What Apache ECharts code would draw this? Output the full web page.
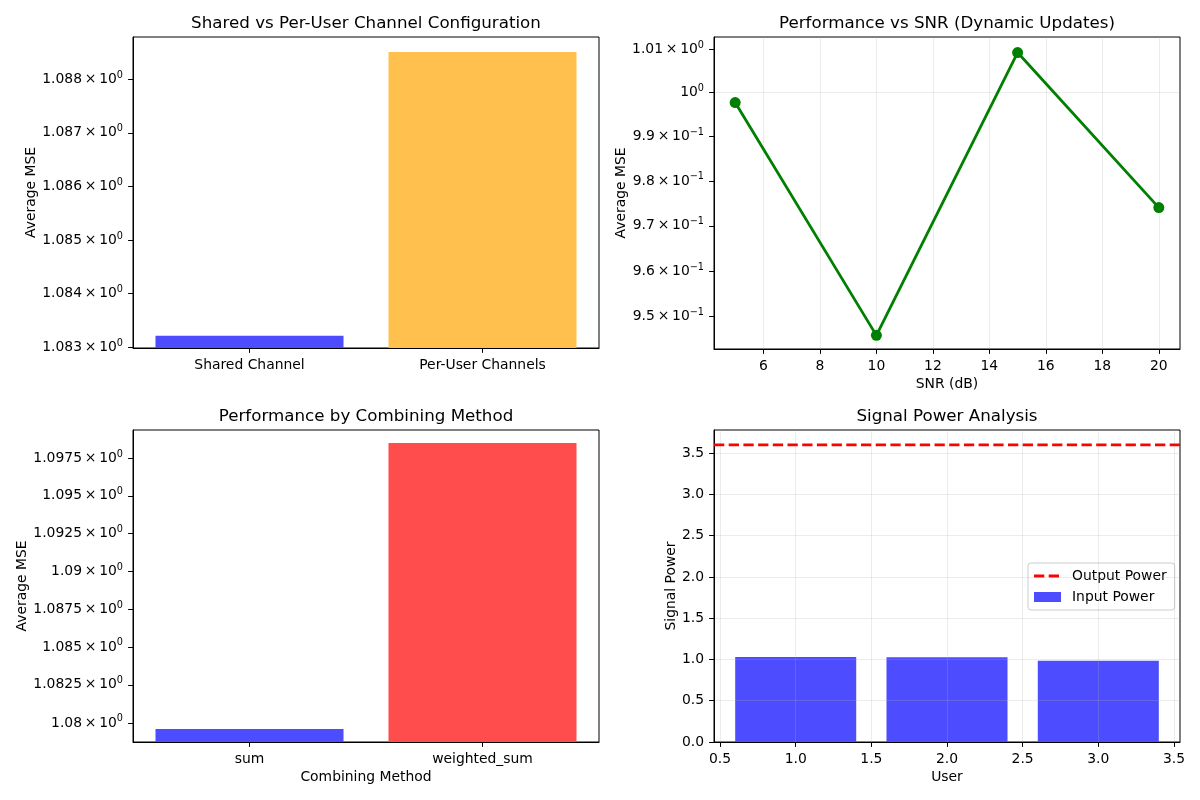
<!DOCTYPE html>
<html>
<head>
<meta charset="utf-8">
<title>Channel analysis</title>
<script src="https://cdn.jsdelivr.net/npm/echarts@6/dist/echarts.min.js"></script>
<style>
  html, body { margin: 0; padding: 0; background: #fff; }
  #chart { width: 1200px; height: 800px; }
</style>
</head>
<body>
<div id="chart"></div>
<script>
// ---- data ----
var channelNames = ['Shared Channel', 'Per-User Channels'];
var channelMse = [1.08322, 1.08851];
var channelTicks = [1.083, 1.084, 1.085, 1.086, 1.087, 1.088];
var channelRange = [1.08299, 1.08879];

var snrDb = [5, 10, 15, 20];
var snrMse = [0.99776, 0.94596, 1.00924, 0.97404];
var snrTicks = [6, 8, 10, 12, 14, 16, 18, 20];
var snrMseTicks = [0.95, 0.96, 0.97, 0.98, 0.99, 1.0, 1.01];
var snrRange = [4.25, 20.75];
var snrMseRange = [0.94301, 1.01284];

var methodNames = ['sum', 'weighted_sum'];
var methodMse = [1.0796, 1.09852];
var methodTicks = [1.08, 1.0825, 1.085, 1.0875, 1.09, 1.0925, 1.095, 1.0975];
var methodRange = [1.07875, 1.09939];

var users = [1, 2, 3];
var inputPower = [1.031, 1.027, 0.983];
var outputPower = 3.6;
var userTicks = [0.5, 1.0, 1.5, 2.0, 2.5, 3.0, 3.5];
var powerTicks = [0, 0.5, 1.0, 1.5, 2.0, 2.5, 3.0, 3.5];
var userRange = [0.46, 3.54];
var powerRange = [0, 3.78];

// ---- helpers ----
var FONT = 'DejaVu Sans';
var lg = function (v) { return Math.log10(v); };

// matplotlib style log labels: "1.083 × 10^0", "10^0", "9.9 × 10^-1"
function sciLabel(v) {
  var raw = Math.pow(10, v);
  var e = Math.floor(Math.log10(raw) + 1e-9);
  var m = parseFloat((raw / Math.pow(10, e)).toFixed(4));
  var es = e < 0 ? '\u2212' + (-e) : String(e);
  if (m === 1) return '{b|10}{s|' + es + '}';
  return '{b|' + m + '\u2009\u00d7\u200910}{s|' + es + '}';
}

var richSci = {
  b: { fontFamily: FONT, fontSize: 13.9, color: '#000', lineHeight: 18 },
  s: { fontFamily: FONT, fontSize: 9.7, color: '#000', verticalAlign: 'top', lineHeight: 12 }
};

var tickStyle = { show: true, length: 4.9, lineStyle: { color: '#000', width: 1 } };
var axisLineStyle = { show: true, onZero: false, lineStyle: { color: '#000', width: 1 } };
var labelStyle = { fontFamily: FONT, fontSize: 13.9, color: '#000', margin: 10 };
var nameStyle = { fontFamily: FONT, fontSize: 13.9, color: '#000' };
// grey at alpha 0.3, drawn over the bars like matplotlib does
var gridLine = { show: true, lineStyle: { color: 'rgba(176,176,176,0.3)', width: 0.8 } };

var grids = [
  { left: 133, top: 37, width: 466, height: 311 },
  { left: 714, top: 37, width: 466, height: 312 },
  { left: 133, top: 430, width: 466, height: 312 },
  { left: 714, top: 430, width: 466, height: 312 }
];
grids.forEach(function (g) {
  g.show = true;
  g.borderColor = '#000';
  g.borderWidth = 1;
  g.outerBoundsMode = 'none';
});

function catX(gi, names, axisName) {
  return {
    type: 'category', gridIndex: gi, data: names, z: 10,
    name: axisName || '', nameLocation: 'middle', nameGap: 28, nameTextStyle: nameStyle,
    axisLine: axisLineStyle,
    axisTick: { show: true, length: 4.9, alignWithLabel: true, lineStyle: { color: '#000', width: 1 } },
    axisLabel: labelStyle,
    splitLine: { show: false }
  };
}

function logY(gi, ticks, range, nameGap) {
  var cv = ticks.map(lg);
  return {
    type: 'value', gridIndex: gi, z: 10,
    min: lg(range[0]), max: lg(range[1]),
    name: 'Average MSE', nameLocation: 'middle', nameGap: nameGap, nameTextStyle: nameStyle,
    axisLine: axisLineStyle,
    axisTick: Object.assign({ customValues: cv }, tickStyle),
    axisLabel: Object.assign({ customValues: cv, formatter: sciLabel, rich: richSci }, labelStyle),
    splitLine: { show: false }
  };
}

var chart = echarts.init(document.getElementById('chart'), null, { renderer: 'canvas' });

var brWidth = grids[3].width;
var barPx = brWidth * 0.8 / (userRange[1] - userRange[0]);

var titles = [
  { text: 'Shared vs Per-User Channel Configuration', x: 366, y: 24 },
  { text: 'Performance vs SNR (Dynamic Updates)', x: 947, y: 24 },
  { text: 'Performance by Combining Method', x: 366, y: 417 },
  { text: 'Signal Power Analysis', x: 947, y: 417 }
];

chart.setOption({
  animation: false,
  backgroundColor: '#fff',
  textStyle: { fontFamily: FONT },
  graphic: titles.map(function (t) {
    return {
      type: 'text', x: t.x, y: t.y, silent: true,
      style: { text: t.text, fontFamily: FONT, fontSize: 16.7, fill: '#000', textAlign: 'center', textVerticalAlign: 'middle' }
    };
  }),
  grid: grids,
  legend: {
    data: [
      { name: 'Output Power', icon: 'path://M0,0 M0,3.6L10.3,3.6L10.3,6.4L0,6.4Z M14.7,3.6L25,3.6L25,6.4L14.7,6.4Z M27,10' },
      { name: 'Input Power', icon: 'rect' }
    ],
    orient: 'vertical',
    left: 1028, top: 563,
    padding: [6, 8, 6, 6],
    itemGap: 7,
    itemWidth: 27, itemHeight: 10,
    backgroundColor: 'rgba(255,255,255,0.8)',
    borderColor: '#cccccc', borderWidth: 1, borderRadius: 3,
    textStyle: { fontFamily: FONT, fontSize: 13.9, color: '#000', padding: [0, 0, 0, 6] }
  },
  xAxis: [
    catX(0, channelNames),
    {
      type: 'value', gridIndex: 1, z: 10, min: snrRange[0], max: snrRange[1],
      name: 'SNR (dB)', nameLocation: 'middle', nameGap: 28, nameTextStyle: nameStyle,
      axisLine: axisLineStyle,
      axisTick: Object.assign({ customValues: snrTicks }, tickStyle),
      axisLabel: Object.assign({ customValues: snrTicks }, labelStyle),
      splitLine: gridLine
    },
    catX(2, methodNames, 'Combining Method'),
    {
      type: 'value', gridIndex: 3, z: 10, min: userRange[0], max: userRange[1],
      name: 'User', nameLocation: 'middle', nameGap: 28, nameTextStyle: nameStyle,
      axisLine: axisLineStyle,
      axisTick: Object.assign({ customValues: userTicks }, tickStyle),
      axisLabel: Object.assign({ customValues: userTicks, formatter: function (v) { return v.toFixed(1); } }, labelStyle),
      splitLine: gridLine
    }
  ],
  yAxis: [
    logY(0, channelTicks, channelRange, 93),
    logY(1, snrMseTicks, snrMseRange, 83),
    logY(2, methodTicks, methodRange, 102),
    {
      type: 'value', gridIndex: 3, z: 10, min: powerRange[0], max: powerRange[1],
      name: 'Signal Power', nameLocation: 'middle', nameGap: 36, nameTextStyle: nameStyle,
      axisLine: axisLineStyle,
      axisTick: Object.assign({ customValues: powerTicks }, tickStyle),
      axisLabel: Object.assign({ customValues: powerTicks, formatter: function (v) { return v.toFixed(1); } }, labelStyle),
      splitLine: gridLine
    }
  ],
  series: [
    {
      type: 'bar', xAxisIndex: 0, yAxisIndex: 0, barWidth: '80.7%',
      data: channelMse.map(function (v, i) {
        return { value: lg(v), itemStyle: { color: i === 0 ? '#4d4dff' : '#ffc04d' } };
      })
    },
    {
      // only the major tick 10^0 gets a horizontal grid line
      type: 'line', xAxisIndex: 1, yAxisIndex: 1, data: [], z: 11, silent: true,
      markLine: {
        silent: true, symbol: 'none', label: { show: false }, animation: false,
        lineStyle: { color: 'rgba(176,176,176,0.3)', width: 0.8, type: 'solid' },
        data: [{ yAxis: 0 }]
      }
    },
    {
      type: 'line', xAxisIndex: 1, yAxisIndex: 1, z: 12,
      data: snrDb.map(function (s, i) { return [s, lg(snrMse[i])]; }),
      symbol: 'circle', symbolSize: 11,
      lineStyle: { color: '#008000', width: 2.8 },
      itemStyle: { color: '#008000' }
    },
    {
      type: 'bar', xAxisIndex: 2, yAxisIndex: 2, barWidth: '80.7%',
      data: methodMse.map(function (v, i) {
        return { value: lg(v), itemStyle: { color: i === 0 ? '#4d4dff' : '#ff4d4d' } };
      })
    },
    {
      name: 'Input Power', type: 'bar', xAxisIndex: 3, yAxisIndex: 3, barWidth: barPx,
      itemStyle: { color: '#4d4dff' },
      data: users.map(function (u, i) { return [u, inputPower[i]]; })
    },
    {
      name: 'Output Power', type: 'line', xAxisIndex: 3, yAxisIndex: 3, z: 12,
      symbol: 'none',
      lineStyle: { color: '#ff0000', width: 2.8, type: [10.3, 4.4] },
      itemStyle: { color: '#ff0000' },
      data: [[userRange[0], outputPower], [userRange[1], outputPower]]
    }
  ]
});
</script>
</body>
</html>
